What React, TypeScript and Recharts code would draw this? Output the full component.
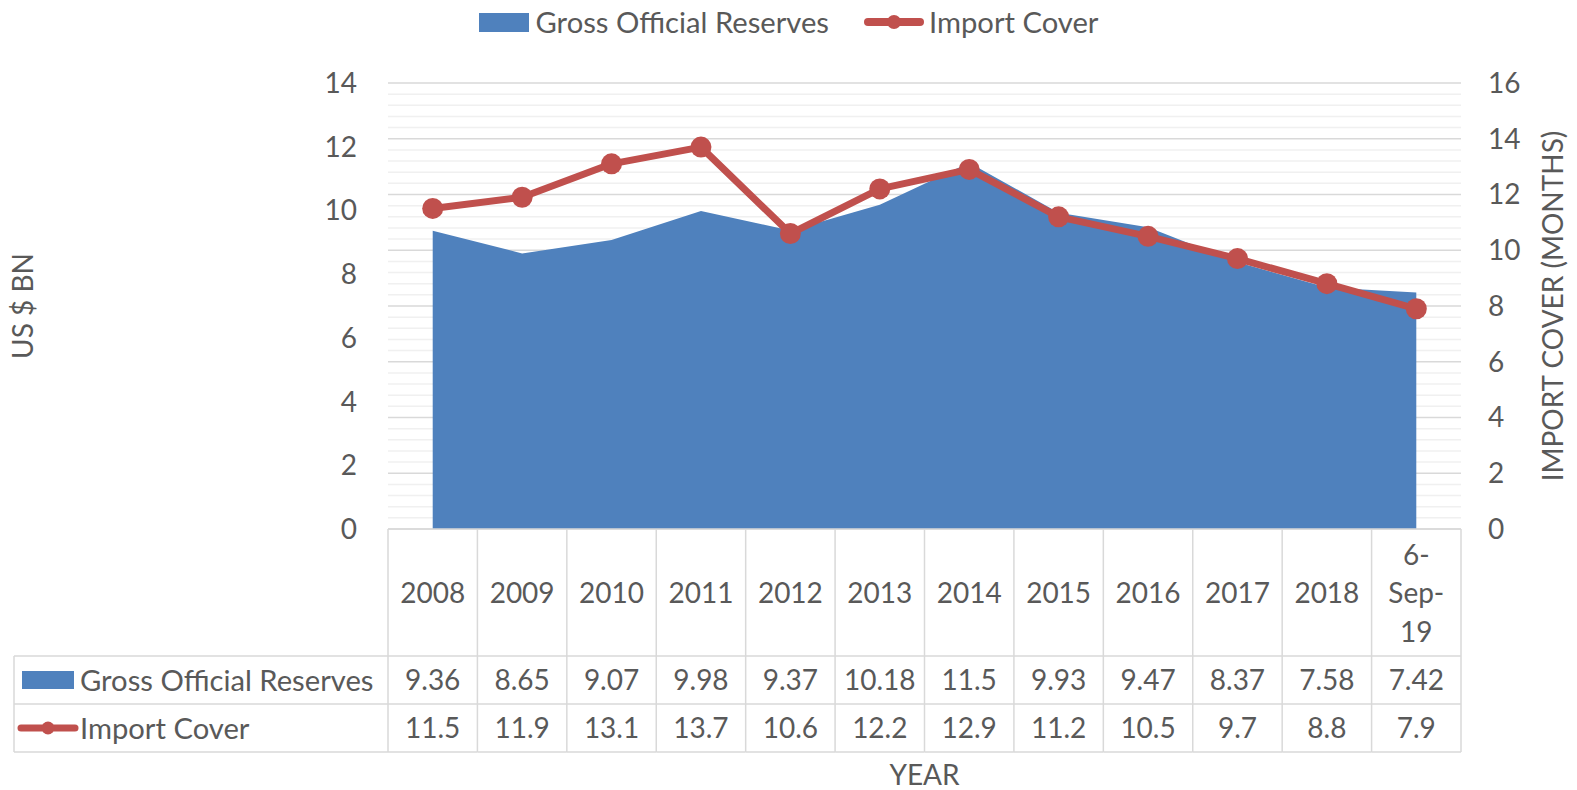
import React from 'react';
import { ComposedChart, Area, Line, XAxis, YAxis, CartesianGrid, Legend } from 'recharts';

// ---- data ----
const YEARS = ['2008', '2009', '2010', '2011', '2012', '2013', '2014', '2015', '2016', '2017', '2018', '6-Sep-19'];
const GROSS_RESERVES = [9.36, 8.65, 9.07, 9.98, 9.37, 10.18, 11.5, 9.93, 9.47, 8.37, 7.58, 7.42];
const IMPORT_COVER = [11.5, 11.9, 13.1, 13.7, 10.6, 12.2, 12.9, 11.2, 10.5, 9.7, 8.8, 7.9];
const LEFT_TICKS = [0, 2, 4, 6, 8, 10, 12, 14];
const RIGHT_TICKS = [0, 2, 4, 6, 8, 10, 12, 14, 16];
const SERIES_GROSS = 'Gross Official Reserves';
const SERIES_COVER = 'Import Cover';
const LEFT_TITLE = 'US $ BN';
const RIGHT_TITLE = 'IMPORT COVER (MONTHS)';
const X_TITLE = 'YEAR';

const data = YEARS.map((year, i) => ({ year, gross: GROSS_RESERVES[i], cover: IMPORT_COVER[i] }));

// ---- layout / style ----
const W = 1577;
const H = 790;
const PLOT_LEFT = 388;
const PLOT_RIGHT = 1461;
const PLOT_TOP = 83;
const PLOT_BOTTOM = 529;
const BAND = (PLOT_RIGHT - PLOT_LEFT) / YEARS.length;
const TABLE_LEFT = 14;
const ROW_HEADER = 127;
const ROW_1 = 175;
const ROW_2 = 223;
const FONT = 'Lato, "Open Sans", sans-serif';
const FS = 28;
const FS_NAME = 29.2;
const TEXT = '#595959';
const BLUE = '#4F81BD';
const RED = '#C0504D';
const GRID = '#D9D9D9';
const MINOR = '#F0F0F0';
const MINOR_STEP = 0.4;
const MINOR_VALUES = Array.from({ length: Math.round(16 / MINOR_STEP) + 1 }, (_, k) => +(k * MINOR_STEP).toFixed(2)).filter(
  (v) => Math.abs(v / 2 - Math.round(v / 2)) > 1e-6
);

const txt = { fill: TEXT, fontSize: FS, fontFamily: FONT };
const nameTxt = { fill: TEXT, fontSize: FS_NAME, fontFamily: FONT };

const TableTick = (props: any) => {
  const { x, y, payload } = props;
  const i = payload?.index ?? props.index ?? 0;
  const half = BAND / 2;
  const l = x - half;
  const r = x + half;
  const label = String(payload.value);
  const lines = label.length > 5 ? label.match(/[^-]+-?/g) || [label] : [label];
  const lh = 38.5;
  const headerCy = y + 64;
  const row1Cy = y + 151;
  const row2Cy = y + 199;
  const ln = { stroke: GRID, strokeWidth: 1.5 };
  return (
    <g>
      {i === 0 && (
        <g>
          <line x1={l} y1={y} x2={l} y2={y + ROW_2} {...ln} />
          <line x1={TABLE_LEFT} y1={y + ROW_HEADER} x2={l} y2={y + ROW_HEADER} {...ln} />
          <line x1={TABLE_LEFT} y1={y + ROW_1} x2={l} y2={y + ROW_1} {...ln} />
          <line x1={TABLE_LEFT} y1={y + ROW_2} x2={l} y2={y + ROW_2} {...ln} />
          <line x1={TABLE_LEFT} y1={y + ROW_HEADER} x2={TABLE_LEFT} y2={y + ROW_2} {...ln} />
          <rect x={22} y={row1Cy - 9} width={52} height={18} fill={BLUE} />
          <text x={80} y={row1Cy} dy="0.36em" textAnchor="start" {...nameTxt}>
            {SERIES_GROSS}
          </text>
          <line x1={21} y1={row2Cy} x2={75} y2={row2Cy} stroke={RED} strokeWidth={7} strokeLinecap="round" />
          <circle cx={48} cy={row2Cy} r={6.5} fill={RED} />
          <text x={80} y={row2Cy} dy="0.36em" textAnchor="start" {...nameTxt}>
            {SERIES_COVER}
          </text>
        </g>
      )}
      <line x1={r} y1={y} x2={r} y2={y + ROW_2} {...ln} />
      <line x1={l} y1={y + ROW_HEADER} x2={r} y2={y + ROW_HEADER} {...ln} />
      <line x1={l} y1={y + ROW_1} x2={r} y2={y + ROW_1} {...ln} />
      <line x1={l} y1={y + ROW_2} x2={r} y2={y + ROW_2} {...ln} />
      {lines.map((s, k) => (
        <text key={k} x={x} y={headerCy + (k - (lines.length - 1) / 2) * lh} dy="0.36em" textAnchor="middle" {...txt}>
          {s}
        </text>
      ))}
      <text x={x} y={row1Cy} dy="0.36em" textAnchor="middle" {...txt}>
        {String(data[i]?.gross)}
      </text>
      <text x={x} y={row2Cy} dy="0.36em" textAnchor="middle" {...txt}>
        {String(data[i]?.cover)}
      </text>
    </g>
  );
};

const TopLegend = (props: any) => {
  const payload = props.payload || [];
  return (
    <div
      style={{
        width: W,
        display: 'flex',
        justifyContent: 'center',
        alignItems: 'center',
        height: 44,
        fontFamily: FONT,
        fontSize: FS_NAME,
        color: TEXT,
      }}
    >
      {payload.map((p: any, k: number) => {
        const isLine = p.dataKey === 'cover';
        return (
          <div key={k} style={{ display: 'flex', alignItems: 'center', marginLeft: k === 0 ? 0 : 35 }}>
            {isLine ? (
              <svg width={60} height={20} style={{ display: 'block', marginRight: 5 }}>
                <line x1={4} y1={10} x2={56} y2={10} stroke={RED} strokeWidth={8} strokeLinecap="round" />
                <circle cx={30} cy={10} r={7} fill={RED} />
              </svg>
            ) : (
              <div style={{ width: 50, height: 19, background: BLUE, marginRight: 7 }} />
            )}
            <span style={{ lineHeight: '44px' }}>{p.value}</span>
          </div>
        );
      })}
    </div>
  );
};

const leftTitle = (p: any) => {
  const vb = p.viewBox || { x: 0, y: PLOT_TOP, width: PLOT_LEFT, height: PLOT_BOTTOM - PLOT_TOP };
  const cx = vb.x + 23;
  const cy = vb.y + vb.height / 2;
  return (
    <text x={cx} y={cy} dy="0.36em" textAnchor="middle" transform={`rotate(-90 ${cx} ${cy})`} {...txt}>
      {LEFT_TITLE}
    </text>
  );
};

const rightTitle = (p: any) => {
  const vb = p.viewBox || { x: PLOT_RIGHT, y: PLOT_TOP, width: W - PLOT_RIGHT, height: PLOT_BOTTOM - PLOT_TOP };
  const cx = vb.x + 92;
  const cy = vb.y + vb.height / 2;
  return (
    <text x={cx} y={cy} dy="0.36em" textAnchor="middle" transform={`rotate(-90 ${cx} ${cy})`} {...txt}>
      {RIGHT_TITLE}
    </text>
  );
};

const xTitle = (p: any) => {
  const vb = p.viewBox || { x: PLOT_LEFT, y: PLOT_BOTTOM, width: PLOT_RIGHT - PLOT_LEFT, height: H - PLOT_BOTTOM };
  const cx = vb.x + vb.width / 2;
  const cy = vb.y + 246;
  return (
    <text x={cx} y={cy} dy="0.36em" textAnchor="middle" {...txt}>
      {X_TITLE}
    </text>
  );
};

const minorGen = (args: any) => {
  const { yAxis, offset } = args || {};
  if (yAxis && typeof yAxis.scale === 'function') {
    return MINOR_VALUES.map((v) => yAxis.scale(v));
  }
  const top = offset?.top ?? PLOT_TOP;
  const h = offset?.height ?? PLOT_BOTTOM - PLOT_TOP;
  return MINOR_VALUES.map((v) => top + h - (v / 16) * h);
};

export default function App() {
  return (
    <div style={{ position: 'absolute', left: 0, top: 0, width: W, height: H, background: '#fff', fontFamily: FONT }}>
      <ComposedChart width={W} height={H} data={data} margin={{ top: PLOT_TOP, right: 0, bottom: 0, left: 0 }}>
        <CartesianGrid
          yAxisId="right"
          vertical={false}
          stroke={MINOR}
          strokeWidth={1.5}
          horizontalCoordinatesGenerator={minorGen}
        />
        <CartesianGrid yAxisId="right" vertical={false} stroke={GRID} strokeWidth={1.5} />
        <XAxis
          dataKey="year"
          type="category"
          scale="point"
          padding={{ left: BAND / 2, right: BAND / 2 }}
          interval={0}
          height={H - PLOT_BOTTOM}
          tickLine={false}
          tickSize={0}
          tickMargin={0}
          axisLine={{ stroke: GRID, strokeWidth: 1.5 }}
          tick={<TableTick />}
          label={xTitle}
        />
        <YAxis
          yAxisId="left"
          orientation="left"
          width={PLOT_LEFT}
          domain={[0, 14]}
          ticks={LEFT_TICKS}
          interval={0}
          axisLine={false}
          tickLine={false}
          tickSize={0}
          tickMargin={31}
          tick={{ fill: TEXT, fontSize: FS, fontFamily: FONT }}
          label={leftTitle}
        />
        <YAxis
          yAxisId="right"
          orientation="right"
          width={W - PLOT_RIGHT}
          domain={[0, 16]}
          ticks={RIGHT_TICKS}
          interval={0}
          axisLine={false}
          tickLine={false}
          tickSize={0}
          tickMargin={27}
          tick={{ fill: TEXT, fontSize: FS, fontFamily: FONT }}
          label={rightTitle}
        />
        <Legend
          layout="horizontal"
          verticalAlign="middle"
          align="center"
          wrapperStyle={{ position: 'absolute', top: 0, left: 0, width: W, height: 44 }}
          content={<TopLegend />}
        />
        <Area
          yAxisId="left"
          type="linear"
          dataKey="gross"
          name={SERIES_GROSS}
          fill={BLUE}
          fillOpacity={1}
          stroke="none"
          dot={false}
          activeDot={false}
          isAnimationActive={false}
        />
        <Line
          yAxisId="right"
          type="linear"
          dataKey="cover"
          name={SERIES_COVER}
          stroke={RED}
          strokeWidth={7}
          strokeLinejoin="round"
          dot={{ r: 10.5, fill: RED, stroke: RED, strokeWidth: 0 }}
          activeDot={false}
          isAnimationActive={false}
        />
      </ComposedChart>
    </div>
  );
}
